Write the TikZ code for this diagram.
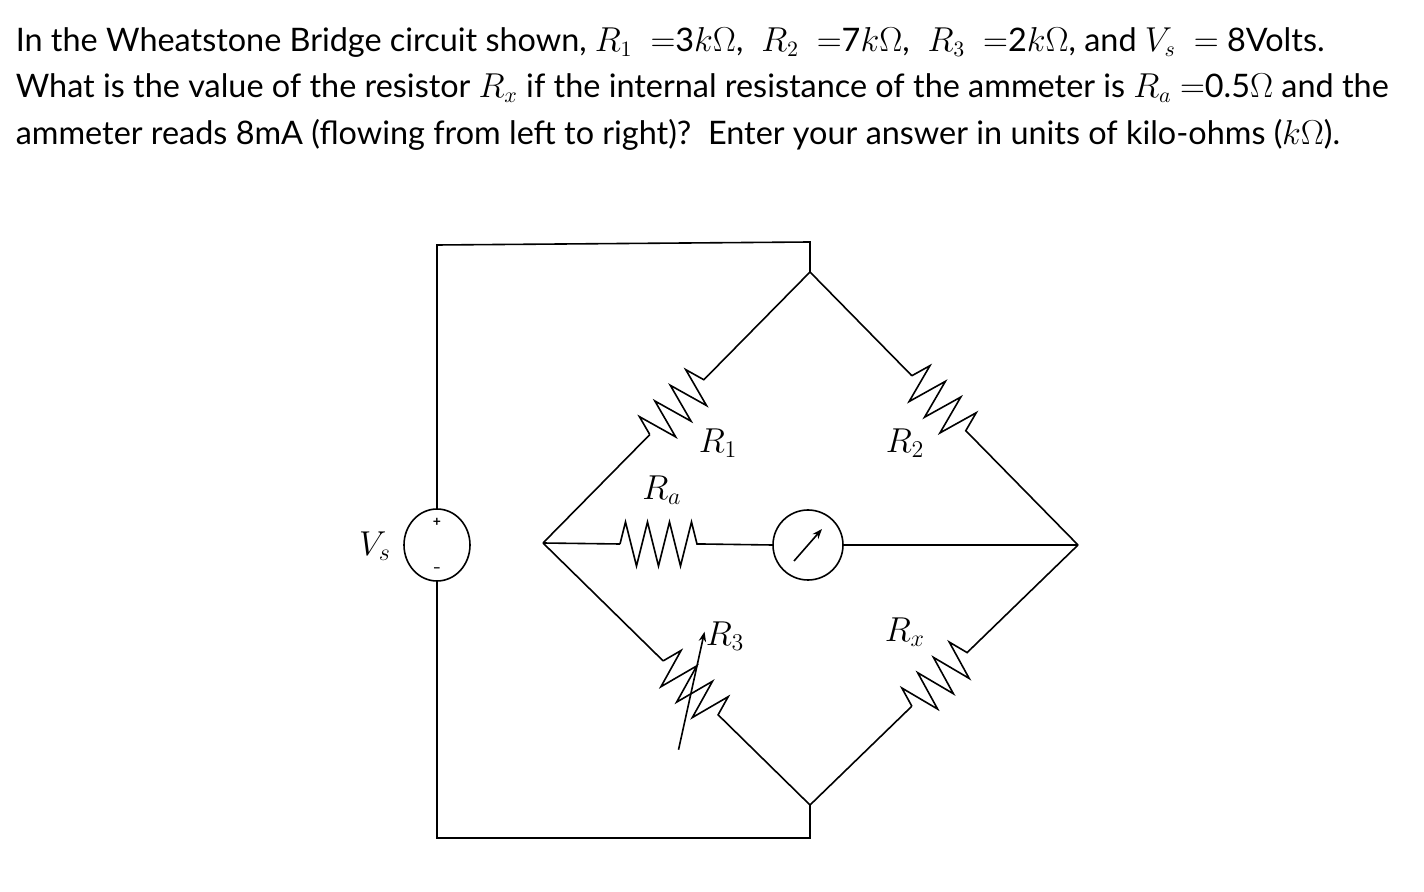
\documentclass[tikz,border=0pt]{standalone}
\usepackage{fontspec}
\setmainfont{Lato}
\usetikzlibrary{decorations.pathmorphing,calc,arrows.meta,shapes.geometric}
\begin{document}
\begin{tikzpicture}[x=0.5pt,y=-0.5pt,line width=0.8pt,
  txt/.style={anchor=west,inner sep=0,font=\fontsize{16.2}{19}\selectfont},
  lab/.style={inner sep=0,font=\fontsize{17}{19}\selectfont},
  res/.style={decorate,decoration={zigzag,segment length=11pt,amplitude=10pt}}]
\useasboundingbox (0,0) rectangle (1424,892);
\node[txt] (l1) at (15,42) {In the Wheatstone Bridge circuit shown, $R_1\;$ $=$3$k\Omega$, $\;R_2\;$ $=$7$k\Omega$, $\;R_3\;$ $=$2$k\Omega$, and $V_s\;$ $=$ 8Volts.};
\node[txt] (l2) at (15,88) {What is the value of the resistor $R_x$ if the internal resistance of the ammeter is $R_a$ $=$0.5$\Omega$ and the};
\node[txt] (l3) at (15,135) {ammeter reads 8mA (flowing from left to right)?\ \ Enter your answer in units of kilo-ohms ($k\Omega$).};
\coordinate (T) at (810,272);
\coordinate (L) at (543,543);
\coordinate (R) at (1078,545);
\coordinate (B) at (810,805);
\coordinate (tw) at (437,245);
\coordinate (te) at (810,242);
\coordinate (bw) at (437,838);
\coordinate (be) at (810,838);
\node[draw,ellipse,minimum width=33pt,minimum height=36pt,inner sep=0] (vs) at (437,545) {};
\node[font=\scriptsize\bfseries] (plus) at (437,522) {+};
\node[font=\scriptsize\bfseries] (minus) at (437,570) {--};
\node[lab] (vsl) at (375,546) {$V_s$};
\draw (vs.north) -- (tw) -- (te) -- (T);
\draw (vs.south) -- (bw) -- (be) -- (B);
% R1
\coordinate (r1a) at ($(L)!0.40!(T)$);
\coordinate (r1b) at ($(L)!0.62!(T)$);
\draw (L) -- (r1a); \draw[res] (r1a) -- (r1b); \draw (r1b) -- (T);
% R2
\coordinate (r2a) at ($(T)!0.38!(R)$);
\coordinate (r2b) at ($(T)!0.60!(R)$);
\draw (T) -- (r2a); \draw[res] (r2a) -- (r2b); \draw (r2b) -- (R);
% R3
\coordinate (r3a) at ($(L)!0.45!(B)$);
\coordinate (r3b) at ($(L)!0.67!(B)$);
\draw (L) -- (r3a); \draw[res] (r3a) -- (r3b); \draw (r3b) -- (B);
\draw[-{Stealth[length=5pt]}] ($(r3a)!0.5!(r3b)+(-14,60)$) -- ($(r3a)!0.5!(r3b)+(12,-58)$);
% Rx
\coordinate (rxa) at ($(B)!0.38!(R)$);
\coordinate (rxb) at ($(B)!0.60!(R)$);
\draw (B) -- (rxa); \draw[res] (rxa) -- (rxb); \draw (rxb) -- (R);
% middle
\coordinate (raa) at (620,544);
\coordinate (rab) at (702,544);
\node[draw,circle,minimum size=35pt,inner sep=0] (am) at (808,545) {};
\draw (L) -- (raa); \draw[res,decoration={zigzag,segment length=11pt,amplitude=11pt}] (raa) -- (rab); \draw (rab) -- (am.west);
\draw (am.east) -- (R);
\draw[-{Stealth[length=5pt]}] ($(am)+(-14,16)$) -- ($(am)+(14,-16)$);
\node[lab] (r1l) at (718,443) {$R_1$};
\node[lab] (r2l) at (905,443) {$R_2$};
\node[lab] (ral) at (662,490) {$R_a$};
\node[lab] (r3l) at (725,636) {$R_3$};
\node[lab] (rxl) at (905,632) {$R_x$};
\end{tikzpicture}
\end{document}
